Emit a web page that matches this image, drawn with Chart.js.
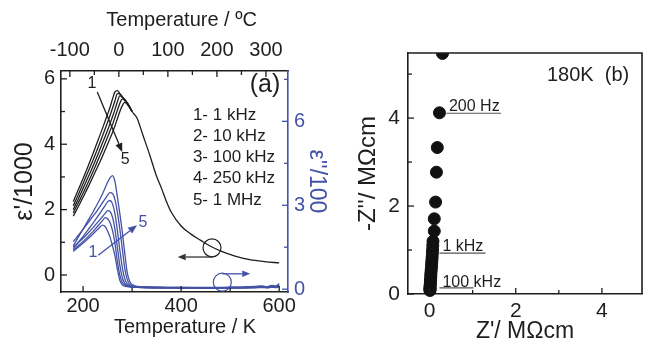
<!DOCTYPE html>
<html><head><meta charset="utf-8">
<script src="https://cdn.jsdelivr.net/npm/chart.js@4.4.1/dist/chart.umd.min.js"></script>
<style>
html,body{margin:0;padding:0;background:#fff;}
#wrap{position:relative;width:649px;height:345px;overflow:hidden;}
#ca{position:absolute;left:0;top:0;}
#cb{position:absolute;left:330px;top:0;}
</style></head><body>
<div id="wrap"><canvas id="ca" width="330" height="345"></canvas><canvas id="cb" width="319" height="345"></canvas></div>
<script>
// ================= Panel (a) data =================
const tempLowK = [180,190,200,210,220,230,240,250,255,260,265,270,275,280,285,290,295,300];
const epsReal1kHz   = [2.25,2.6,2.95,3.32,3.7,4.1,4.5,4.92,5.13,5.38,5.6,5.64,5.55,5.45,5.36,5.27,5.15,5.0];
const epsReal10kHz  = [2.12,2.45,2.8,3.15,3.5,3.88,4.27,4.67,4.88,5.1,5.33,5.55,5.54,5.45,5.36,5.26,5.14,5.0];
const epsReal100kHz = [2.0,2.32,2.65,2.98,3.32,3.68,4.05,4.43,4.63,4.84,5.06,5.3,5.48,5.44,5.36,5.26,5.14,5.0];
const epsReal250kHz = [1.9,2.2,2.5,2.82,3.15,3.5,3.85,4.22,4.41,4.6,4.82,5.04,5.25,5.39,5.34,5.25,5.13,5.0];
const epsReal1MHz   = [1.8,2.08,2.38,2.68,3.0,3.32,3.65,4.0,4.18,4.36,4.56,4.78,5.0,5.18,5.28,5.22,5.12,5.0];
const tempTailK   = [310,322,336,349,360,370,380,400,420,440,460,480,510,540,570,600];
const epsRealTail = [4.8,4.28,3.67,3.06,2.65,2.25,1.92,1.5,1.25,1.06,0.88,0.74,0.58,0.47,0.41,0.37];

const tempLossK = [180,190,200,210,220,230,240,245,250,255,260,265,270,275,280,285,290,295,300,310,330,360,400,450,500,530,550,565,575,585,592,600];
const epsLossA = [1.55,1.85,2.15,2.45,2.75,3.07,3.42,3.62,3.82,3.98,4.06,3.85,3.3,2.7,2.05,1.3,0.6,0.28,0.17,0.1,0.08,0.07,0.06,0.06,0.07,0.08,0.1,0.12,0.09,0.14,0.11,0.2];
const epsLossB = [1.7,1.92,2.14,2.37,2.6,2.84,3.1,3.23,3.36,3.45,3.42,3.2,2.75,2.15,1.45,0.75,0.35,0.18,0.12,0.09,0.07,0.06,0.06,0.05,0.06,0.07,0.09,0.1,0.08,0.12,0.1,0.16];
const epsLossC = [1.45,1.67,1.89,2.12,2.35,2.6,2.86,2.99,3.12,3.17,3.05,2.7,2.1,1.4,0.78,0.38,0.2,0.13,0.1,0.08,0.07,0.06,0.05,0.05,0.06,0.06,0.08,0.09,0.07,0.1,0.09,0.14];
const epsLossD = [1.5,1.66,1.82,2.0,2.19,2.4,2.6,2.71,2.81,2.78,2.58,2.15,1.5,0.85,0.42,0.22,0.14,0.1,0.09,0.08,0.06,0.05,0.05,0.05,0.05,0.06,0.07,0.08,0.07,0.09,0.08,0.12];
const epsLossE = [1.4,1.55,1.71,1.88,2.06,2.26,2.46,2.56,2.52,2.38,2.1,1.65,1.0,0.5,0.25,0.15,0.11,0.09,0.08,0.07,0.06,0.05,0.05,0.04,0.05,0.05,0.06,0.07,0.06,0.08,0.07,0.1];
const epsLossF = [1.35,1.5,1.65,1.8,1.97,2.14,2.29,2.24,2.08,1.86,1.55,1.2,0.72,0.32,0.16,0.11,0.09,0.08,0.07,0.07,0.05,0.05,0.04,0.04,0.04,0.05,0.05,0.06,0.05,0.07,0.06,0.09];

const freqLegend = ['1- 1 kHz','2- 10 kHz','3- 100 kHz','4- 250 kHz','5- 1 MHz'];

const ticksK = [200,400,600], minorK = [300,500];
const ticksC = [-100,0,100,200,300], minorC = [-50,50,150,250];
const ticksEps = [0,2,4,6], minorEps = [1,3,5];
const ticksLoss = [0,3,6], minorLoss = [1.5,4.5,7.5];

// ================= Panel (b) data =================
const zReal = [0.3,0.23,0.18,0.16,0.14,0.11,0.11,0.08,0.075,0.07,0.065,0.06,0.055,0.05,0.045,0.04,0.035,0.03,0.03,0.025,0.02,0.02,0.015,0.015,0.01,0.01,0.01,0.01];
const zImag = [5.47,4.12,3.33,2.77,2.09,1.71,1.43,1.2,1.1,1.0,0.92,0.84,0.77,0.7,0.63,0.57,0.51,0.45,0.4,0.35,0.3,0.26,0.22,0.18,0.15,0.12,0.1,0.08];
const ticksZ = [0,2,4], minorZx = [1,3], minorZy = [1,3,5];

const BLUE = '#4352a5';
const INK = '#1e1e1e';
const FONT = "'Liberation Sans', Arial, sans-serif";
const pairs = (xs, ys) => xs.map((x, i) => ({x, y: ys[i]}));

function arrow(ctx, x1, y1, x2, y2, color, head) {
  ctx.save();
  ctx.strokeStyle = color; ctx.fillStyle = color; ctx.lineWidth = 1.3;
  const a = Math.atan2(y2 - y1, x2 - x1);
  const bx = x2 - head * Math.cos(a), by = y2 - head * Math.sin(a);
  ctx.beginPath(); ctx.moveTo(x1, y1); ctx.lineTo(bx, by); ctx.stroke();
  ctx.beginPath();
  ctx.moveTo(x2, y2);
  ctx.lineTo(bx + head * 0.4 * Math.sin(a), by - head * 0.4 * Math.cos(a));
  ctx.lineTo(bx - head * 0.4 * Math.sin(a), by + head * 0.4 * Math.cos(a));
  ctx.closePath(); ctx.fill();
  ctx.restore();
}
function txt(ctx, s, x, y, size, color, align, base) {
  ctx.save();
  ctx.font = size + 'px ' + FONT; ctx.fillStyle = color;
  ctx.textAlign = align || 'left'; ctx.textBaseline = base || 'middle';
  ctx.fillText(s, x, y); ctx.restore();
}

// inward tick marks drawn from each scale
function tickPlugin(spec) {
  return {
    id: 'inTicks',
    afterDraw(chart) {
      const ctx = chart.ctx, ca = chart.chartArea;
      ctx.save(); ctx.lineWidth = 1.3;
      for (const id in spec) {
        const s = chart.scales[id], o = spec[id];
        ctx.strokeStyle = o.color;
        const draw = (vals, len) => vals.forEach(v => {
          const p = s.getPixelForValue(v);
          ctx.beginPath();
          if (s.position === 'bottom') { ctx.moveTo(p, ca.bottom); ctx.lineTo(p, ca.bottom - len); }
          else if (s.position === 'top') { ctx.moveTo(p, ca.top); ctx.lineTo(p, ca.top + len); }
          else if (s.position === 'left') { ctx.moveTo(ca.left, p); ctx.lineTo(ca.left + len, p); }
          else { ctx.moveTo(ca.right, p); ctx.lineTo(ca.right - len, p); }
          ctx.stroke();
        });
        draw(o.major, 6); draw(o.minor, 4);
      }
      ctx.restore();
    }
  };
}
const setTicks = vals => s => { s.ticks = vals.map(v => ({value: v})); };

// ================= Chart (a) =================
const blackDs = [
  pairs(tempLowK, epsReal1kHz).concat(pairs(tempTailK, epsRealTail)),
  pairs(tempLowK, epsReal10kHz), pairs(tempLowK, epsReal100kHz),
  pairs(tempLowK, epsReal250kHz), pairs(tempLowK, epsReal1MHz)
].map(d => ({data: d, yAxisID: 'y', xAxisID: 'x', borderColor: INK}));
const blueDs = [epsLossA, epsLossB, epsLossC, epsLossD, epsLossE, epsLossF]
  .map(v => ({data: pairs(tempLossK, v), yAxisID: 'y2', xAxisID: 'x', borderColor: BLUE}));

const annoA = {
  id: 'annoA',
  afterDraw(chart) {
    const ctx = chart.ctx, X = chart.scales.x, XT = chart.scales.xTop, Y = chart.scales.y, Y2 = chart.scales.y2;
    const x = v => X.getPixelForValue(v), y = v => Y.getPixelForValue(v), y2 = v => Y2.getPixelForValue(v);
    // axis titles
    txt(ctx, 'Temperature / K', x(408), 327, 20, INK, 'center');
    txt(ctx, 'Temperature / ºC', XT.getPixelForValue(128), 20, 20, INK, 'center');
    txt(ctx, '(a)', x(571), y(5.81), 25, INK, 'center');
    freqLegend.forEach((s, i) => txt(ctx, s, x(424), y(4.89) + i * 21.2, 17, INK, 'left'));
    // black 1 -> 5 arrow
    arrow(ctx, x(229), y(5.6), x(280), y(3.76), INK, 9);
    txt(ctx, '1', x(218), y(5.87), 16, INK, 'center');
    txt(ctx, '5', x(286), y(3.52), 16, INK, 'center');
    // blue 1 -> 5 arrow
    arrow(ctx, x(231), y2(1.21), x(310), y2(2.29), BLUE, 9);
    txt(ctx, '1', x(220), y2(1.32), 16, BLUE, 'center');
    txt(ctx, '5', x(322), y2(2.39), 16, BLUE, 'center');
    // circles with axis arrows
    ctx.save(); ctx.lineWidth = 1.2;
    ctx.strokeStyle = INK; ctx.beginPath(); ctx.arc(x(463), y(0.83), 9, 0, Math.PI * 2); ctx.stroke();
    ctx.strokeStyle = BLUE; ctx.beginPath(); ctx.arc(x(484), y2(0.25), 9, 0, Math.PI * 2); ctx.stroke();
    ctx.restore();
    arrow(ctx, x(465), y(0.55), x(393), y(0.55), '#333', 8);
    arrow(ctx, x(484), y2(0.55), x(541), y2(0.55), BLUE, 8);
  }
};

new Chart(document.getElementById('ca'), {
  type: 'line',
  data: {datasets: blueDs.concat(blackDs)},
  options: {
    responsive: false, animation: false,
    layout: {padding: 0},
    plugins: {legend: {display: false}, tooltip: {enabled: false}},
    elements: {point: {radius: 0}, line: {borderWidth: 1.3, cubicInterpolationMode: 'monotone'}},
    scales: {
      x: {
        type: 'linear', position: 'bottom', min: 155, max: 618,
        afterBuildTicks: setTicks(ticksK), afterFit: s => { s.height = 53; },
        grid: {display: false, drawTicks: false},
        border: {display: true, color: INK, width: 1.6},
        ticks: {padding: 2, color: INK, font: {family: FONT, size: 20}},
        title: {display: false}
      },
      xTop: {
        type: 'linear', position: 'top', min: 155 - 273, max: 618 - 273,
        afterBuildTicks: setTicks(ticksC), afterFit: s => { s.height = 71; },
        grid: {display: false, drawTicks: false},
        border: {display: true, color: INK, width: 1.6},
        ticks: {padding: 9, color: INK, font: {family: FONT, size: 20}},
        title: {display: false}
      },
      y: {
        type: 'linear', position: 'left', min: -0.52, max: 6.24,
        afterBuildTicks: setTicks(ticksEps), afterFit: s => { s.width = 61; },
        grid: {display: false, drawTicks: false},
        border: {display: true, color: INK, width: 1.6},
        ticks: {padding: 6, color: INK, font: {family: FONT, size: 20}},
        title: {display: true, text: "ε'/1000", color: INK, font: {family: FONT, size: 25}, padding: {top: 10, bottom: 0}}
      },
      y2: {
        type: 'linear', position: 'right', min: -0.1, max: 7.8,
        afterBuildTicks: setTicks(ticksLoss), afterFit: s => { s.width = 42; },
        grid: {display: false, drawTicks: false},
        border: {display: true, color: BLUE, width: 1.6},
        ticks: {padding: 6, color: BLUE, font: {family: FONT, size: 20}},
        title: {display: true, text: "ε''/100", color: BLUE, font: {family: FONT, size: 23}, padding: {top: 0, bottom: 0}}
      }
    }
  },
  plugins: [tickPlugin({
    x: {major: ticksK, minor: minorK, color: INK},
    xTop: {major: ticksC, minor: minorC, color: INK},
    y: {major: ticksEps, minor: minorEps, color: INK},
    y2: {major: ticksLoss, minor: minorLoss, color: BLUE}
  }), annoA]
});

// ================= Chart (b) =================
const annoB = {
  id: 'annoB',
  afterDraw(chart) {
    const ctx = chart.ctx, X = chart.scales.x, Y = chart.scales.y, ca = chart.chartArea;
    const x = v => X.getPixelForValue(v), y = v => Y.getPixelForValue(v);
    // frame top/right
    ctx.save(); ctx.strokeStyle = INK; ctx.lineWidth = 1.6;
    ctx.beginPath(); ctx.moveTo(ca.left, ca.top); ctx.lineTo(ca.right, ca.top); ctx.lineTo(ca.right, ca.bottom); ctx.stroke();
    ctx.restore();
    txt(ctx, '180K  (b)', x(3.68), y(4.98), 20, INK, 'center');
    const lab = (s, tx, ty, u0, u1, uy) => {
      txt(ctx, s, x(tx), y(ty), 16, INK, 'left', 'alphabetic');
      ctx.save(); ctx.strokeStyle = '#555'; ctx.lineWidth = 1.1;
      ctx.beginPath(); ctx.moveTo(x(u0), y(uy)); ctx.lineTo(x(u1), y(uy)); ctx.stroke(); ctx.restore();
    };
    lab('200 Hz', 0.45, 4.17, 0.39, 1.66, 4.11);
    lab('1 kHz', 0.3, 0.98, 0.23, 1.3, 0.93);
    lab('100 kHz', 0.3, 0.17, 0.23, 1.02, 0.14);
  }
};

new Chart(document.getElementById('cb'), {
  type: 'scatter',
  data: {datasets: [{data: pairs(zReal, zImag), backgroundColor: '#111', borderColor: '#111',
    pointRadius: 6, pointHoverRadius: 6, clip: {top: 0, left: 10, right: 10, bottom: 10}}]},
  options: {
    responsive: false, animation: false,
    layout: {padding: {top: 53, right: 2, left: 0, bottom: 0}},
    plugins: {legend: {display: false}, tooltip: {enabled: false}},
    scales: {
      x: {
        type: 'linear', position: 'bottom', min: -0.5, max: 4.93,
        afterBuildTicks: setTicks(ticksZ), afterFit: s => { s.height = 51; },
        grid: {display: false, drawTicks: false},
        border: {display: true, color: INK, width: 1.6},
        ticks: {padding: 5, color: INK, font: {family: FONT, size: 21}},
        title: {display: true, text: "Z'/ MΩcm", color: INK, font: {family: FONT, size: 23}, padding: {top: 0, bottom: 0}}
      },
      y: {
        type: 'linear', position: 'left', min: 0, max: 5.48,
        afterBuildTicks: setTicks(ticksZ), afterFit: s => { s.width = 78; },
        grid: {display: false, drawTicks: false},
        border: {display: true, color: INK, width: 1.6},
        ticks: {padding: 8, color: INK, font: {family: FONT, size: 21}},
        title: {display: true, text: "-Z''/ MΩcm", color: INK, font: {family: FONT, size: 24}, padding: {top: 24, bottom: 0}}
      }
    }
  },
  plugins: [tickPlugin({
    x: {major: ticksZ, minor: minorZx, color: INK},
    y: {major: ticksZ, minor: minorZy, color: INK}
  }), annoB]
});
</script>
</body></html>
